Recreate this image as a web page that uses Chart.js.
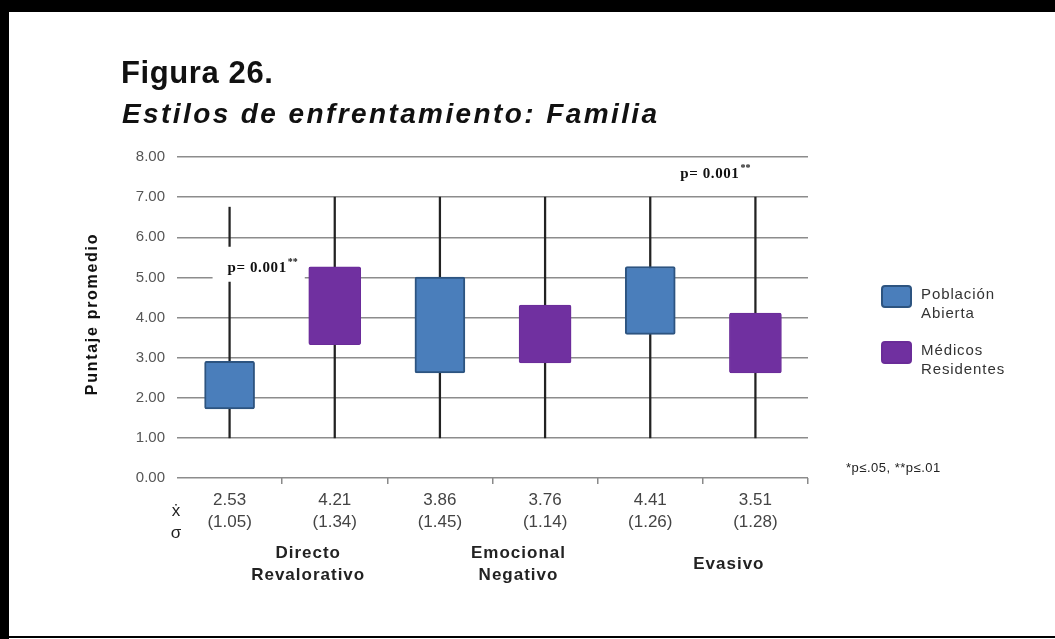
<!DOCTYPE html>
<html>
<head>
<meta charset="utf-8">
<script src="https://cdn.jsdelivr.net/npm/chart.js@4/dist/chart.umd.min.js"></script>
<style>
  html, body { margin: 0; padding: 0; background: #fff; }
  canvas { display: block; }
</style>
</head>
<body>
<canvas id="chart" width="1055" height="639"></canvas>
<script>
// groups of coping styles, each with one box per sample
const GROUP_NAMES = [['Directo', 'Revalorativo'], ['Emocional', 'Negativo'], ['Evasivo']];
const SERIES_NAMES = [['Población', 'Abierta'], ['Médicos', 'Residentes']];

// mean and standard deviation shown under each box
const MEAN_VALUES = [2.53, 4.21, 3.86, 3.76, 4.41, 3.51];
const SD_VALUES = [1.05, 1.34, 1.45, 1.14, 1.26, 1.28];

// box bottom / top and whisker ends (Puntaje promedio)
const BOX_LOW = [1.72, 3.32, 2.62, 2.87, 3.58, 2.62];
const BOX_HIGH = [2.91, 5.26, 5.01, 4.31, 5.27, 4.11];
const WHISKER_LOW = [1.00, 1.00, 1.00, 1.00, 1.00, 1.00];
const WHISKER_HIGH = [6.75, 7.00, 7.00, 7.00, 7.00, 7.00];

// significance notes: box index and score level
const P_NOTES = [
	{ text: 'p= 0.001', stars: '**', at: 0, value: 5.24, shift: -2, clear: true },
	{ text: 'p= 0.001', stars: '**', at: 4, value: 7.58, shift: 30, clear: false },
];

const COLOR_FILL = ['#4a7ebb', '#7030a0'];
const COLOR_EDGE = ['#2d5480', '#6a2c98'];
const SANS = '"Liberation Sans", Arial, sans-serif';
const SERIF = '"Liberation Serif", "Times New Roman", serif';

Chart.defaults.font.family = SANS;

let xLabels = MEAN_VALUES.map((m, i) => [m.toFixed(2), '(' + SD_VALUES[i].toFixed(2) + ')']);
let whiskers = WHISKER_LOW.map((lo, i) => [lo, WHISKER_HIGH[i]]);
function boxesFor(s) {
	return BOX_LOW.map((lo, i) => (i % 2 === s ? [lo, BOX_HIGH[i]] : null));
}

function spacedText(ctx, text, x, y, spacing) {
	ctx.letterSpacing = spacing + 'px';
	ctx.fillText(text, x, y);
	ctx.letterSpacing = '0px';
}

let decor = {
	id: 'decor',
	beforeDraw(chart) {
		let ctx = chart.ctx;
		ctx.save();
		ctx.fillStyle = '#fff';
		ctx.fillRect(0, 0, chart.width, chart.height);
		ctx.fillStyle = '#000';
		ctx.fillRect(0, 0, chart.width, 12);
		ctx.fillRect(0, 0, 9, chart.height);
		ctx.fillRect(0, chart.height - 3, chart.width, 2);
		ctx.restore();
	},
	afterDatasetsDraw(chart) {
		let ctx = chart.ctx;
		let xs = chart.scales.x, ys = chart.scales.y;
		ctx.save();
		P_NOTES.forEach((n) => {
			let x = xs.getPixelForValue(n.at) + n.shift;
			let y = ys.getPixelForValue(n.value);
			ctx.font = 'bold 15px ' + SERIF;
			ctx.letterSpacing = '0.6px';
			let w = ctx.measureText(n.text).width;
			ctx.letterSpacing = '0px';
			if (n.clear) {
				// blank out whisker and grid behind the note, stopping short of the next box
				ctx.fillStyle = '#fff';
				ctx.fillRect(x - 15, y - 21, w + 33, 35);
			}
			ctx.fillStyle = '#111';
			ctx.textAlign = 'left';
			ctx.textBaseline = 'middle';
			spacedText(ctx, n.text, x, y, 0.6);
			ctx.font = 'bold 10px ' + SERIF;
			ctx.fillText(n.stars, x + w + 1, y - 5);
		});
		ctx.restore();
	},
	afterDraw(chart) {
		let ctx = chart.ctx;
		let xs = chart.scales.x;
		ctx.save();
		ctx.textAlign = 'left';
		ctx.textBaseline = 'alphabetic';
		ctx.fillStyle = '#111';

		// heading
		ctx.font = 'bold 31px ' + SANS;
		spacedText(ctx, 'Figura 26.', 121, 83, 0.6);
		ctx.font = 'italic bold 28px ' + SANS;
		spacedText(ctx, 'Estilos de enfrentamiento: Familia', 122, 123, 2.4);

		// y axis title
		ctx.save();
		ctx.translate(93, 314);
		ctx.rotate(-Math.PI / 2);
		ctx.textAlign = 'center';
		ctx.textBaseline = 'middle';
		ctx.font = 'bold 16px ' + SANS;
		spacedText(ctx, 'Puntaje promedio', 0, 0, 1.7);
		ctx.restore();

		// row markers for mean and sd
		ctx.textAlign = 'center';
		ctx.textBaseline = 'middle';
		ctx.fillStyle = '#222';
		ctx.font = '17px ' + SANS;
		ctx.fillText('\u1E8B', 176, 511);
		ctx.fillText('\u03C3', 176, 533);

		// group names under each pair
		ctx.font = 'bold 17px ' + SANS;
		GROUP_NAMES.forEach((lines, g) => {
			let cx = (xs.getPixelForValue(g * 2) + xs.getPixelForValue(g * 2 + 1)) / 2 + 26;
			let top = 564 - ((lines.length - 1) * 22) / 2;
			lines.forEach((ln, k) => spacedText(ctx, ln, cx, top + k * 22, 1.0));
		});

		// legend
		ctx.textAlign = 'left';
		SERIES_NAMES.forEach((lines, s) => {
			let top = 286 + s * 56;
			ctx.beginPath();
			ctx.roundRect(882, top, 29, 21, 3);
			ctx.fillStyle = COLOR_FILL[s];
			ctx.fill();
			ctx.lineWidth = 2;
			ctx.strokeStyle = COLOR_EDGE[s];
			ctx.stroke();
			ctx.fillStyle = '#333';
			ctx.font = '15px ' + SANS;
			lines.forEach((ln, k) => spacedText(ctx, ln, 921, top + 9 + k * 19, 0.9));
		});

		ctx.fillStyle = '#222';
		ctx.font = '13px ' + SANS;
		spacedText(ctx, '*p\u2264.05, **p\u2264.01', 846, 468, 0.5);
		ctx.restore();
	},
};

let ctx = document.getElementById('chart').getContext('2d');
let boxChart = new Chart(ctx, {
	type: 'bar',
	data: {
		labels: xLabels,
		datasets: [
			{
				label: SERIES_NAMES[0].join(' '),
				data: boxesFor(0),
				backgroundColor: COLOR_FILL[0],
				borderColor: COLOR_EDGE[0],
				borderWidth: 2,
				borderSkipped: false,
				borderRadius: 2,
				barThickness: 50,
				grouped: false,
				order: 1,
			},
			{
				label: SERIES_NAMES[1].join(' '),
				data: boxesFor(1),
				backgroundColor: COLOR_FILL[1],
				borderColor: COLOR_EDGE[1],
				borderWidth: 1,
				borderSkipped: false,
				borderRadius: 2,
				barThickness: 52,
				grouped: false,
				order: 1,
			},
			{
				label: 'rango',
				data: whiskers,
				backgroundColor: '#222',
				barThickness: 1.6,
				grouped: false,
				order: 2,
			},
		],
	},
	options: {
		responsive: false,
		animation: false,
		devicePixelRatio: 1,
		layout: { padding: { left: 80, right: 247, top: 157, bottom: 0 } },
		plugins: {
			legend: { display: false },
			tooltip: { enabled: false },
		},
		scales: {
			x: {
				border: { display: false },
				grid: {
					drawOnChartArea: false,
					tickLength: 6,
					lineWidth: 1.5,
					color: (c) => (c.index === 0 ? 'rgba(0,0,0,0)' : '#8a8a8a'),
				},
				ticks: {
					color: '#444',
					padding: 5,
					font: { size: 17, lineHeight: 1.3 },
					maxRotation: 0,
					autoSkip: false,
				},
				afterFit: (scale) => {
					scale.height = 161;
				},
			},
			y: {
				min: 0,
				max: 8,
				border: { display: false },
				grid: { color: '#8c8c8c', lineWidth: 1.5, drawTicks: false },
				ticks: {
					stepSize: 1,
					color: '#555',
					padding: 12,
					font: { size: 15 },
					callback: (v) => Number(v).toFixed(2),
				},
				afterFit: (scale) => {
					scale.width = 97;
				},
			},
		},
	},
	plugins: [decor],
});
</script>
</body>
</html>
